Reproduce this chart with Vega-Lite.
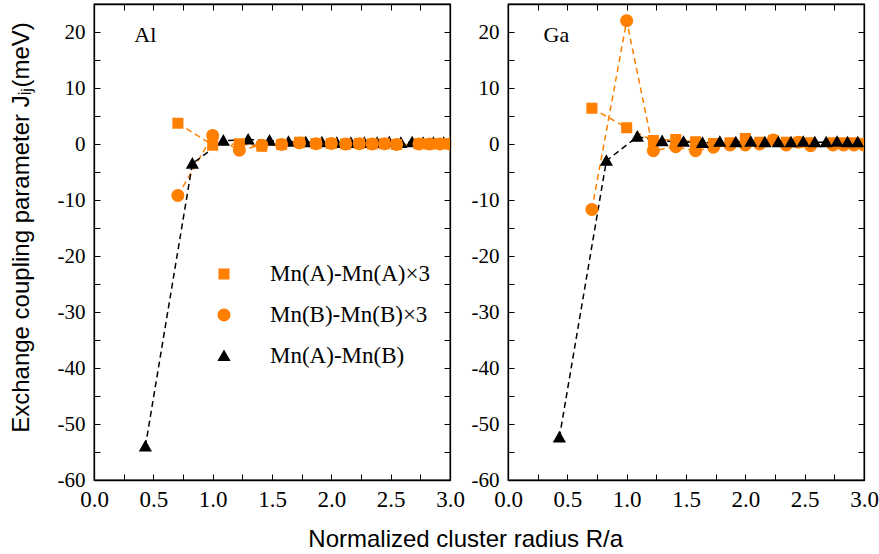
{
  "$schema": "https://vega.github.io/schema/vega-lite/v6.json",
  "padding": {"left": 8, "top": 2, "right": 5, "bottom": 2},
  "background": "white",
  "spacing": 4,
  "title": {"text": "Normalized cluster radius R/a", "orient": "bottom", "anchor": "middle", "font": "Liberation Sans", "fontSize": 24, "fontWeight": "normal", "color": "black", "offset": 16, "dx": 22},
  "datasets": {
    "al": [
      {"s": "Mn(A)-Mn(B)", "x": 0.433, "y": -54.0},
      {"s": "Mn(A)-Mn(B)", "x": 0.829, "y": -3.5},
      {"s": "Mn(A)-Mn(B)", "x": 1.090, "y": 0.6},
      {"s": "Mn(A)-Mn(B)", "x": 1.299, "y": 0.8},
      {"s": "Mn(A)-Mn(B)", "x": 1.479, "y": 0.6},
      {"s": "Mn(A)-Mn(B)", "x": 1.639, "y": 0.4},
      {"s": "Mn(A)-Mn(B)", "x": 1.785, "y": 0.3},
      {"s": "Mn(A)-Mn(B)", "x": 1.920, "y": 0.3},
      {"s": "Mn(A)-Mn(B)", "x": 2.046, "y": 0.2},
      {"s": "Mn(A)-Mn(B)", "x": 2.165, "y": 0.2},
      {"s": "Mn(A)-Mn(B)", "x": 2.278, "y": 0.2},
      {"s": "Mn(A)-Mn(B)", "x": 2.385, "y": 0.2},
      {"s": "Mn(A)-Mn(B)", "x": 2.488, "y": 0.3},
      {"s": "Mn(A)-Mn(B)", "x": 2.586, "y": 0.2},
      {"s": "Mn(A)-Mn(B)", "x": 2.681, "y": 0.3},
      {"s": "Mn(A)-Mn(B)", "x": 2.773, "y": 0.2},
      {"s": "Mn(A)-Mn(B)", "x": 2.861, "y": 0.2},
      {"s": "Mn(A)-Mn(B)", "x": 2.947, "y": 0.2},
      {"s": "Mn(A)-Mn(A)×3", "x": 0.707, "y": 3.7},
      {"s": "Mn(A)-Mn(A)×3", "x": 1.000, "y": -0.2},
      {"s": "Mn(A)-Mn(A)×3", "x": 1.225, "y": 0.05},
      {"s": "Mn(A)-Mn(A)×3", "x": 1.414, "y": -0.4},
      {"s": "Mn(A)-Mn(A)×3", "x": 1.581, "y": -0.1},
      {"s": "Mn(A)-Mn(A)×3", "x": 1.732, "y": 0.3},
      {"s": "Mn(A)-Mn(A)×3", "x": 1.871, "y": 0.1},
      {"s": "Mn(A)-Mn(A)×3", "x": 2.000, "y": 0.1},
      {"s": "Mn(A)-Mn(A)×3", "x": 2.121, "y": 0.0},
      {"s": "Mn(A)-Mn(A)×3", "x": 2.236, "y": 0.1},
      {"s": "Mn(A)-Mn(A)×3", "x": 2.345, "y": 0.0},
      {"s": "Mn(A)-Mn(A)×3", "x": 2.449, "y": 0.05},
      {"s": "Mn(A)-Mn(A)×3", "x": 2.550, "y": -0.1},
      {"s": "Mn(A)-Mn(A)×3", "x": 2.739, "y": 0.05},
      {"s": "Mn(A)-Mn(A)×3", "x": 2.828, "y": 0.0},
      {"s": "Mn(A)-Mn(A)×3", "x": 2.915, "y": 0.05},
      {"s": "Mn(A)-Mn(A)×3", "x": 3.000, "y": 0.0},
      {"s": "Mn(B)-Mn(B)×3", "x": 0.707, "y": -9.2},
      {"s": "Mn(B)-Mn(B)×3", "x": 1.000, "y": 1.5},
      {"s": "Mn(B)-Mn(B)×3", "x": 1.225, "y": -1.1},
      {"s": "Mn(B)-Mn(B)×3", "x": 1.414, "y": -0.2},
      {"s": "Mn(B)-Mn(B)×3", "x": 1.581, "y": -0.1},
      {"s": "Mn(B)-Mn(B)×3", "x": 1.732, "y": 0.2},
      {"s": "Mn(B)-Mn(B)×3", "x": 1.871, "y": 0.05},
      {"s": "Mn(B)-Mn(B)×3", "x": 2.000, "y": 0.1},
      {"s": "Mn(B)-Mn(B)×3", "x": 2.121, "y": 0.0},
      {"s": "Mn(B)-Mn(B)×3", "x": 2.236, "y": 0.05},
      {"s": "Mn(B)-Mn(B)×3", "x": 2.345, "y": 0.0},
      {"s": "Mn(B)-Mn(B)×3", "x": 2.449, "y": 0.05},
      {"s": "Mn(B)-Mn(B)×3", "x": 2.550, "y": -0.1},
      {"s": "Mn(B)-Mn(B)×3", "x": 2.739, "y": 0.0},
      {"s": "Mn(B)-Mn(B)×3", "x": 2.828, "y": 0.0},
      {"s": "Mn(B)-Mn(B)×3", "x": 2.915, "y": 0.0},
      {"s": "Mn(B)-Mn(B)×3", "x": 3.000, "y": 0.0}
    ],
    "ga": [
      {"s": "Mn(B)-Mn(B)×3", "x": 0.707, "y": -11.7},
      {"s": "Mn(B)-Mn(B)×3", "x": 1.000, "y": 22.0},
      {"s": "Mn(B)-Mn(B)×3", "x": 1.225, "y": -1.2},
      {"s": "Mn(B)-Mn(B)×3", "x": 1.414, "y": -0.5},
      {"s": "Mn(B)-Mn(B)×3", "x": 1.581, "y": -1.2},
      {"s": "Mn(B)-Mn(B)×3", "x": 1.732, "y": -0.6},
      {"s": "Mn(B)-Mn(B)×3", "x": 1.871, "y": -0.2},
      {"s": "Mn(B)-Mn(B)×3", "x": 2.000, "y": -0.2},
      {"s": "Mn(B)-Mn(B)×3", "x": 2.121, "y": 0.0},
      {"s": "Mn(B)-Mn(B)×3", "x": 2.236, "y": 0.7},
      {"s": "Mn(B)-Mn(B)×3", "x": 2.345, "y": -0.2},
      {"s": "Mn(B)-Mn(B)×3", "x": 2.449, "y": 0.3},
      {"s": "Mn(B)-Mn(B)×3", "x": 2.550, "y": -0.3},
      {"s": "Mn(B)-Mn(B)×3", "x": 2.739, "y": -0.2},
      {"s": "Mn(B)-Mn(B)×3", "x": 2.828, "y": -0.2},
      {"s": "Mn(B)-Mn(B)×3", "x": 2.915, "y": -0.2},
      {"s": "Mn(B)-Mn(B)×3", "x": 3.000, "y": -0.2},
      {"s": "Mn(A)-Mn(A)×3", "x": 0.707, "y": 6.4},
      {"s": "Mn(A)-Mn(A)×3", "x": 1.000, "y": 2.9},
      {"s": "Mn(A)-Mn(A)×3", "x": 1.225, "y": 0.6},
      {"s": "Mn(A)-Mn(A)×3", "x": 1.414, "y": 0.8},
      {"s": "Mn(A)-Mn(A)×3", "x": 1.581, "y": 0.4},
      {"s": "Mn(A)-Mn(A)×3", "x": 1.732, "y": 0.1},
      {"s": "Mn(A)-Mn(A)×3", "x": 1.871, "y": 0.2},
      {"s": "Mn(A)-Mn(A)×3", "x": 2.000, "y": 1.0},
      {"s": "Mn(A)-Mn(A)×3", "x": 2.121, "y": 0.3},
      {"s": "Mn(A)-Mn(A)×3", "x": 2.236, "y": 0.6},
      {"s": "Mn(A)-Mn(A)×3", "x": 2.345, "y": 0.3},
      {"s": "Mn(A)-Mn(A)×3", "x": 2.449, "y": 0.3},
      {"s": "Mn(A)-Mn(A)×3", "x": 2.550, "y": 0.2},
      {"s": "Mn(A)-Mn(A)×3", "x": 2.739, "y": 0.2},
      {"s": "Mn(A)-Mn(A)×3", "x": 2.828, "y": 0.2},
      {"s": "Mn(A)-Mn(A)×3", "x": 2.915, "y": 0.2},
      {"s": "Mn(A)-Mn(A)×3", "x": 3.000, "y": 0.1},
      {"s": "Mn(A)-Mn(B)", "x": 0.433, "y": -52.4},
      {"s": "Mn(A)-Mn(B)", "x": 0.829, "y": -3.0},
      {"s": "Mn(A)-Mn(B)", "x": 1.090, "y": 1.3},
      {"s": "Mn(A)-Mn(B)", "x": 1.299, "y": 0.5},
      {"s": "Mn(A)-Mn(B)", "x": 1.479, "y": 0.4},
      {"s": "Mn(A)-Mn(B)", "x": 1.639, "y": 0.2},
      {"s": "Mn(A)-Mn(B)", "x": 1.785, "y": 0.4},
      {"s": "Mn(A)-Mn(B)", "x": 1.920, "y": 0.3},
      {"s": "Mn(A)-Mn(B)", "x": 2.046, "y": 0.4},
      {"s": "Mn(A)-Mn(B)", "x": 2.165, "y": 0.3},
      {"s": "Mn(A)-Mn(B)", "x": 2.278, "y": 0.3},
      {"s": "Mn(A)-Mn(B)", "x": 2.385, "y": 0.3},
      {"s": "Mn(A)-Mn(B)", "x": 2.488, "y": 0.4},
      {"s": "Mn(A)-Mn(B)", "x": 2.586, "y": 0.3},
      {"s": "Mn(A)-Mn(B)", "x": 2.681, "y": 0.3},
      {"s": "Mn(A)-Mn(B)", "x": 2.773, "y": 0.4},
      {"s": "Mn(A)-Mn(B)", "x": 2.861, "y": 0.3},
      {"s": "Mn(A)-Mn(B)", "x": 2.947, "y": 0.3}
    ]
  },
  "resolve": {"scale": {"color": "independent", "shape": "independent", "x": "independent", "y": "independent"}},
  "hconcat": [
    {
      "width": 356,
      "height": 476,
      "resolve": {"axis": {"x": "independent", "y": "independent"}},
      "layer": [
        {
          "mark": {"type": "rule", "color": "black", "strokeWidth": 1},
          "encoding": {
            "y": {"datum": 0, "type": "quantitative", "scale": {"domain": [-60, 25], "nice": false, "zero": false},
              "axis": {"orient": "right", "labels": false, "title": null, "values": [-60,-55,-50,-45,-40,-35,-30,-25,-20,-15,-10,-5,0,5,10,15,20], "minExtent": 0, "maxExtent": 0}}
          }
        },
        {
          "data": {"name": "al"},
          "transform": [{"filter": "datum.s !== 'Mn(A)-Mn(B)'"}],
          "mark": {"type": "line", "strokeDash": [6, 4], "strokeWidth": 1.5, "color": "#ff8000"},
          "encoding": {
            "x": {"field": "x", "type": "quantitative", "scale": {"domain": [0, 3], "nice": false, "zero": false},
              "axis": {"orient": "bottom", "title": null, "values": [0,0.25,0.5,0.75,1,1.25,1.5,1.75,2,2.25,2.5,2.75,3], "labelExpr": "(datum.value*2) % 1 == 0 ? format(datum.value, '.1f') : ''", "labelFont": "Liberation Serif", "labelFontSize": 23, "labelPadding": 14, "labelFlush": false, "labelOverlap": false}},
            "y": {"field": "y", "type": "quantitative", "scale": {"domain": [-60, 25], "nice": false, "zero": false},
              "axis": {"orient": "left", "title": "Exchange coupling parameter Jᵢⱼ(meV)", "titleFont": "Liberation Sans", "titleFontSize": 24, "titleFontWeight": "normal", "titlePadding": 24, "titleY": 223, "values": [-60,-55,-50,-45,-40,-35,-30,-25,-20,-15,-10,-5,0,5,10,15,20], "labelExpr": "datum.value % 10 == 0 ? '' + datum.value : ''", "labelFont": "Liberation Serif", "labelFontSize": 21, "labelPadding": 15, "labelOverlap": false}},
            "detail": {"field": "s"}
          }
        },
        {
          "data": {"name": "al"},
          "transform": [{"filter": "datum.s === 'Mn(A)-Mn(B)'"}],
          "mark": {"type": "line", "strokeDash": [6, 4], "strokeWidth": 1.5, "color": "black"},
          "encoding": {
            "x": {"field": "x", "type": "quantitative", "axis": null},
            "y": {"field": "y", "type": "quantitative", "axis": null}
          }
        },
        {
          "data": {"name": "al"},
          "mark": {"type": "point", "filled": true, "opacity": 1, "strokeWidth": 0, "size": 576, "clip": true},
          "encoding": {
            "x": {"field": "x", "type": "quantitative", "axis": null},
            "y": {"field": "y", "type": "quantitative", "axis": null},
            "color": {"field": "s", "type": "nominal",
              "scale": {"domain": ["Mn(A)-Mn(A)×3", "Mn(B)-Mn(B)×3", "Mn(A)-Mn(B)"], "range": ["#ff8000", "#ff8000", "black"]},
              "legend": {"orient": "none", "legendX": 117, "legendY": 257, "title": null, "padding": 0,
                "labelFont": "Liberation Serif", "labelFontSize": 23, "labelColor": "black", "labelOffset": 33, "rowPadding": 16, "symbolSize": 576,
                "encode": {"symbols": {
                  "stroke": {"condition": {"test": "datum.value === 'Mn(A)-Mn(B)'", "value": "black"}, "value": "#ff8000"},
                  "strokeWidth": {"value": 1.5},
                  "opacity": {"value": 1}
                }}}},
            "shape": {"field": "s", "type": "nominal",
              "scale": {"domain": ["Mn(A)-Mn(A)×3", "Mn(B)-Mn(B)×3", "Mn(A)-Mn(B)"],
                "range": [
                  "M-2.5,0H-2M-1.67,0H-1.17M-0.83,0H-0.33M0.33,0H0.83M1.17,0H1.67M2,0H2.5M-0.46,-0.46H0.46V0.46H-0.46Z",
                  "M-2.5,0H-2M-1.67,0H-1.17M-0.83,0H-0.33M0.33,0H0.83M1.17,0H1.67M2,0H2.5M-0.54,0A0.54,0.54 0 1,0 0.54,0A0.54,0.54 0 1,0 -0.54,0Z",
                  "M-2.5,0H-2M-1.67,0H-1.17M-0.83,0H-0.33M0.33,0H0.83M1.17,0H1.67M2,0H2.5M0,-0.55L0.55,0.42H-0.55Z"
                ]}}
          }
        },
        {
          "data": {"values": [{"label": "Al"}]},
          "mark": {"type": "text", "font": "Liberation Serif", "fontSize": 22, "align": "left", "baseline": "middle", "color": "black"},
          "encoding": {
            "x": {"datum": 0.34, "type": "quantitative",
              "axis": {"orient": "top", "labels": false, "title": null, "values": [0,0.25,0.5,0.75,1,1.25,1.5,1.75,2,2.25,2.5,2.75,3], "minExtent": 0, "maxExtent": 0}},
            "y": {"datum": 19.5, "type": "quantitative", "axis": null},
            "text": {"field": "label"}
          }
        }
      ]
    },
    {
      "width": 356,
      "height": 476,
      "resolve": {"axis": {"x": "independent", "y": "independent"}},
      "layer": [
        {
          "mark": {"type": "rule", "color": "black", "strokeWidth": 1},
          "encoding": {
            "y": {"datum": 0, "type": "quantitative", "scale": {"domain": [-60, 25], "nice": false, "zero": false},
              "axis": {"orient": "right", "labels": false, "title": null, "values": [-60,-55,-50,-45,-40,-35,-30,-25,-20,-15,-10,-5,0,5,10,15,20], "minExtent": 0, "maxExtent": 0}}
          }
        },
        {
          "data": {"name": "ga"},
          "transform": [{"filter": "datum.s !== 'Mn(A)-Mn(B)'"}],
          "mark": {"type": "line", "strokeDash": [6, 4], "strokeWidth": 1.5, "color": "#ff8000"},
          "encoding": {
            "x": {"field": "x", "type": "quantitative", "scale": {"domain": [0, 3], "nice": false, "zero": false},
              "axis": {"orient": "bottom", "title": null, "values": [0,0.25,0.5,0.75,1,1.25,1.5,1.75,2,2.25,2.5,2.75,3], "labelExpr": "(datum.value*2) % 1 == 0 ? format(datum.value, '.1f') : ''", "labelFont": "Liberation Serif", "labelFontSize": 23, "labelPadding": 14, "labelFlush": false, "labelOverlap": false}},
            "y": {"field": "y", "type": "quantitative", "scale": {"domain": [-60, 25], "nice": false, "zero": false},
              "axis": {"orient": "left", "title": null, "values": [-60,-55,-50,-45,-40,-35,-30,-25,-20,-15,-10,-5,0,5,10,15,20], "labelExpr": "datum.value % 10 == 0 ? '' + datum.value : ''", "labelFont": "Liberation Serif", "labelFontSize": 21, "labelPadding": 15, "labelOverlap": false}},
            "detail": {"field": "s"}
          }
        },
        {
          "data": {"name": "ga"},
          "transform": [{"filter": "datum.s === 'Mn(A)-Mn(B)'"}],
          "mark": {"type": "line", "strokeDash": [6, 4], "strokeWidth": 1.5, "color": "black"},
          "encoding": {
            "x": {"field": "x", "type": "quantitative", "axis": null},
            "y": {"field": "y", "type": "quantitative", "axis": null}
          }
        },
        {
          "data": {"name": "ga"},
          "mark": {"type": "point", "filled": true, "opacity": 1, "strokeWidth": 0, "size": 576, "clip": true},
          "encoding": {
            "x": {"field": "x", "type": "quantitative", "axis": null},
            "y": {"field": "y", "type": "quantitative", "axis": null},
            "color": {"field": "s", "type": "nominal", "legend": null,
              "scale": {"domain": ["Mn(A)-Mn(A)×3", "Mn(B)-Mn(B)×3", "Mn(A)-Mn(B)"], "range": ["#ff8000", "#ff8000", "black"]}},
            "shape": {"field": "s", "type": "nominal", "legend": null,
              "scale": {"domain": ["Mn(A)-Mn(A)×3", "Mn(B)-Mn(B)×3", "Mn(A)-Mn(B)"],
                "range": [
                  "M-2.5,0H-2M-1.67,0H-1.17M-0.83,0H-0.33M0.33,0H0.83M1.17,0H1.67M2,0H2.5M-0.46,-0.46H0.46V0.46H-0.46Z",
                  "M-2.5,0H-2M-1.67,0H-1.17M-0.83,0H-0.33M0.33,0H0.83M1.17,0H1.67M2,0H2.5M-0.54,0A0.54,0.54 0 1,0 0.54,0A0.54,0.54 0 1,0 -0.54,0Z",
                  "M-2.5,0H-2M-1.67,0H-1.17M-0.83,0H-0.33M0.33,0H0.83M1.17,0H1.67M2,0H2.5M0,-0.55L0.55,0.42H-0.55Z"
                ]}}
          }
        },
        {
          "data": {"values": [{"label": "Ga"}]},
          "mark": {"type": "text", "font": "Liberation Serif", "fontSize": 22, "align": "left", "baseline": "middle", "color": "black"},
          "encoding": {
            "x": {"datum": 0.3, "type": "quantitative",
              "axis": {"orient": "top", "labels": false, "title": null, "values": [0,0.25,0.5,0.75,1,1.25,1.5,1.75,2,2.25,2.5,2.75,3], "minExtent": 0, "maxExtent": 0}},
            "y": {"datum": 19.5, "type": "quantitative", "axis": null},
            "text": {"field": "label"}
          }
        }
      ]
    }
  ],
  "config": {
    "view": {"stroke": "black", "strokeWidth": 1.3},
    "axis": {"grid": false, "domainColor": "black", "domainWidth": 1.3, "tickColor": "black", "tickSize": -6, "tickWidth": 1, "labelColor": "black", "labelFont": "Liberation Serif", "titleFont": "Liberation Sans", "titleFontWeight": "normal", "titleColor": "black"}
  }
}
